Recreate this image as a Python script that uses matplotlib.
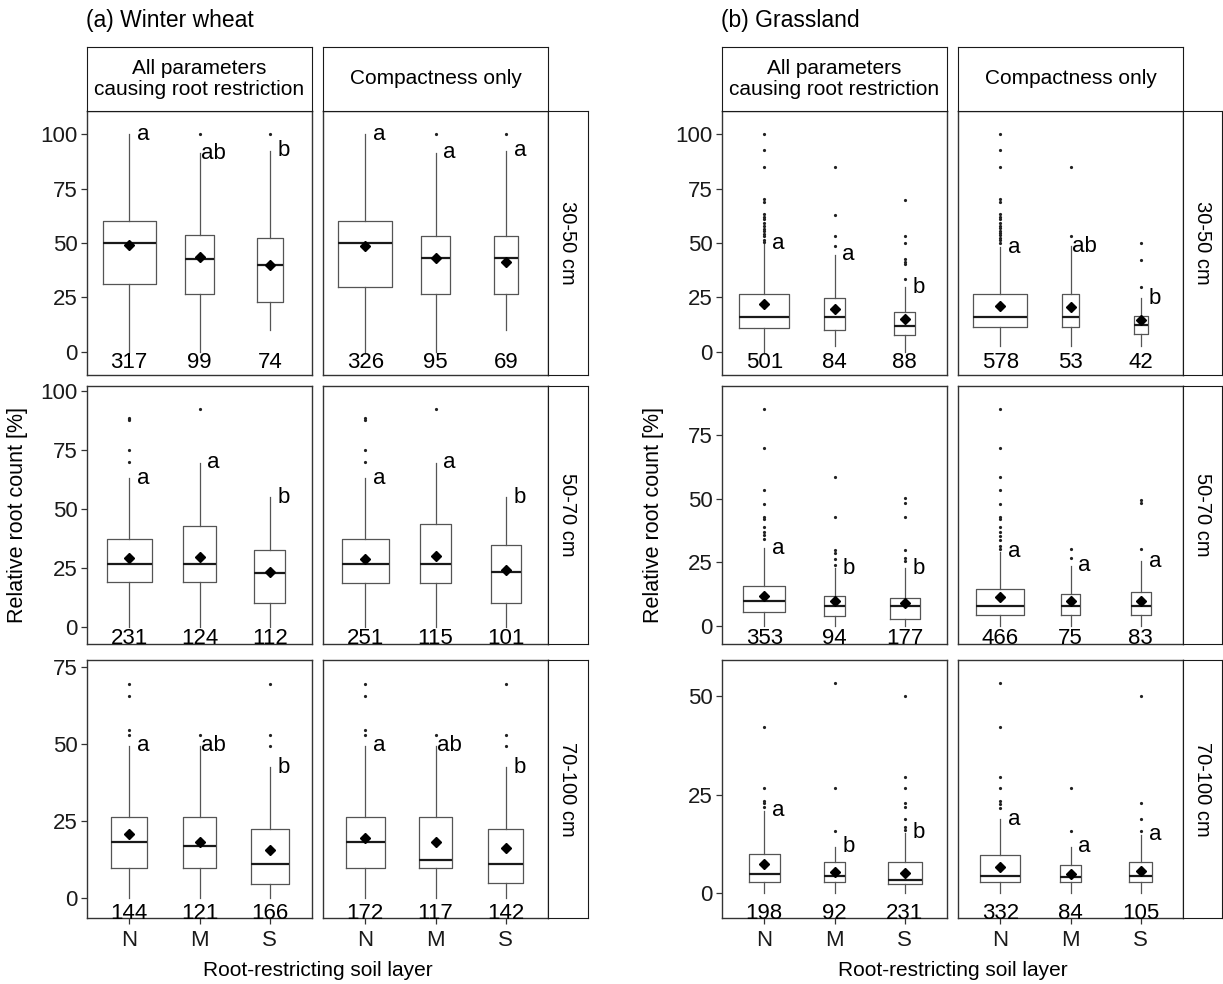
import matplotlib
matplotlib.use("Agg")
import matplotlib.pyplot as plt
import numpy as np

plt.rcParams['font.family'] = ['Liberation Sans', 'DejaVu Sans']

categories = ['N', 'M', 'S']
depths = ['30-50 cm', '50-70 cm', '70-100 cm']
criteria = ['All parameters\ncausing root restriction', 'Compactness only']

# all stats indexed [depth][criterion][category]
ww_n = [[[317, 99, 74], [326, 95, 69]],
        [[231, 124, 112], [251, 115, 101]],
        [[144, 121, 166], [172, 117, 142]]]
ww_letters = [[['a', 'ab', 'b'], ['a', 'a', 'a']],
              [['a', 'a', 'b'], ['a', 'a', 'b']],
              [['a', 'ab', 'b'], ['a', 'ab', 'b']]]
ww_whislo = [[[0, 0, 9.9], [0, 0, 9.9]],
             [[0, 0, 0], [0, 0, 0]],
             [[0, 0, 0], [0, 0, 0]]]
ww_q1 = [[[31.1, 26.4, 22.7], [29.9, 26.6, 26.6]],
         [[18.8, 18.8, 9.9], [18.7, 18.7, 9.9]],
         [[10, 10, 4.8], [10, 10, 5]]]
ww_median = [[[50, 42.6, 39.8], [50, 42.9, 42.9]],
             [[26.7, 26.7, 22.9], [26.7, 26.7, 23.2]],
             [[18.4, 17.1, 11.2], [18.4, 12.6, 11.3]]]
ww_q3 = [[[60, 53.6, 52.4], [60, 53.3, 53.3]],
         [[37.2, 42.7, 32.5], [37.2, 43.6, 34.8]],
         [[26.3, 26.3, 22.6], [26.3, 26.3, 22.6]]]
ww_whishi = [[[100, 91.1, 92.4], [100, 91.5, 92.4]],
             [[62.9, 69.6, 54.9], [62.9, 69.6, 54.9]],
             [[49.6, 49.6, 42.5], [49.6, 49.6, 42.5]]]
ww_mean = [[[48.9, 43.4, 39.8], [48.4, 43.0, 41.4]],
           [[29.3, 29.6, 23.2], [28.6, 30.0, 24.0]],
           [[20.8, 18.3, 15.6], [19.7, 18.3, 16.3]]]
ww_outliers = [[[[], [100], [100]], [[], [100], [100]]],
               [[[88.7, 88, 87.5, 74.8, 69.9], [92.2], []],
                [[88.5, 87.7, 74.8, 69.9], [92.2], []]],
               [[[69.6, 65.8, 54.6, 53], [53], [69.6, 53, 49.6]],
                [[69.6, 65.8, 54.6, 53], [53], [69.6, 53, 49.6]]]]

gr_n = [[[501, 84, 88], [578, 53, 42]],
        [[353, 94, 177], [466, 75, 83]],
        [[198, 92, 231], [332, 84, 105]]]
gr_letters = [[['a', 'a', 'b'], ['a', 'ab', 'b']],
              [['a', 'b', 'b'], ['a', 'a', 'a']],
              [['a', 'b', 'b'], ['a', 'a', 'a']]]
gr_whislo = [[[0, 2.9, 0], [2.6, 2.9, 2.9]],
             [[0, 0, 0], [0, 0, 0]],
             [[0, 0, 0], [0, 0, 0]]]
gr_q1 = [[[11.1, 10.2, 7.8], [11.5, 11.5, 8.2]],
         [[5.4, 3.9, 2.9], [4.2, 4.2, 4.2]],
         [[2.8, 2.8, 2.4], [2.8, 2.8, 2.8]]]
gr_median = [[[16.2, 15.9, 11.8], [15.9, 15.9, 12.5]],
             [[9.9, 7.9, 7.9], [8, 8, 8]],
             [[4.8, 4.3, 3.4], [4.3, 4.1, 4.3]]]
gr_q3 = [[[26.7, 24.6, 18.2], [26.7, 26.7, 16.3]],
         [[15.8, 11.8, 11.1], [14.4, 12.7, 13.4]],
         [[10.1, 7.9, 7.9], [9.8, 7.1, 7.9]]]
gr_whishi = [[[49.9, 44.6, 29.6], [48.1, 48.4, 24.7]],
             [[30.5, 22.6, 22.6], [29.2, 23.7, 25.3]],
             [[20.9, 11.8, 15.4], [18.8, 11.8, 14.9]]]
gr_mean = [[[22.0, 19.7, 15.3], [21.2, 20.5, 14.8]],
           [[11.9, 9.6, 9.0], [11.3, 9.6, 9.9]],
           [[7.5, 5.5, 5.2], [6.6, 4.8, 5.7]]]
gr_outliers = [[[[100, 92.7, 85, 70, 69, 63.2, 62.1, 61.1, 59.1, 57.6, 56.3, 55.3, 54.2, 53, 51.5, 50.4],
                 [85, 62.9, 53.3, 48.4],
                 [69.8, 53.3, 49.9, 42.6, 41.5, 40.5, 33.7]],
                [[100, 92.7, 85, 70, 69, 63.2, 62.1, 61.1, 59.1, 57.9, 56.8, 55.7, 54.7, 53.5, 52.4, 51.5, 50.2],
                 [85, 53.3],
                 [49.9, 42, 29.8]]],
               [[[85.1, 69.8, 53.4, 47.9, 42.9, 41.9, 39, 37, 35.7, 34],
                 [58.6, 42.9, 29.8, 28.8, 26.3, 24],
                 [50.1, 48.4, 42.9, 29.8, 26.6, 25.3]],
                [[85.1, 69.8, 58.6, 53.4, 47.9, 42.9, 41.9, 39, 37, 35.3, 33.8, 31.2, 30.1],
                 [30.1, 26.6],
                 [49.5, 48.4, 30.1]]],
               [[[42.1, 26.6, 23.4, 22.8, 21.9],
                 [53.3, 26.6, 15.8],
                 [50, 29.4, 26.6, 22.8, 21.9, 18.8, 16.8, 16]],
                [[53.3, 42.1, 29.4, 26.6, 23.4, 22.6, 21.7],
                 [26.6, 15.8],
                 [50, 22.8, 18.8, 15.8]]]]

ww_ylims = [(-10.6, 110.6), (-7.3, 102.1), (-6.4, 77.4)]
gr_ylims = [(-10.6, 110.6), (-7.1, 94.2), (-6.2, 59.0)]
ww_yticks = [[0, 25, 50, 75, 100], [0, 25, 50, 75, 100], [0, 25, 50, 75]]
gr_yticks = [[0, 25, 50, 75, 100], [0, 25, 50, 75], [0, 25, 50]]

W, H = 1223, 984
fig = plt.figure(figsize=(W / 100, H / 100), dpi=100)

rows_px = [(111, 375), (386, 644), (660, 918)]
strip_top_px = (47, 111)
border = '#333333'


def px_axes(x0, x1, y0, y1):
    return fig.add_axes([x0 / W, 1 - y1 / H, (x1 - x0) / W, (y1 - y0) / H])


def draw_site(title, cols_px, rstrip_px, n, letters, whislo, q1, med, q3, whishi, mean, outl,
              ylims, yticks):
    nmax = max(v for d in n for c in d for v in c)
    for r in range(3):
        for c in range(2):
            ax = px_axes(cols_px[c][0], cols_px[c][1], rows_px[r][0], rows_px[r][1])
            stats = []
            for k in range(3):
                stats.append(dict(med=med[r][c][k], q1=q1[r][c][k], q3=q3[r][c][k],
                                  whislo=whislo[r][c][k], whishi=whishi[r][c][k],
                                  mean=mean[r][c][k], fliers=outl[r][c][k]))
            widths = [0.76 * np.sqrt(v / nmax) for v in n[r][c]]
            ax.bxp(stats, positions=[1, 2, 3], widths=widths, showmeans=True, showcaps=False,
                   boxprops=dict(color='#555555', lw=0.9),
                   whiskerprops=dict(color='#555555', lw=0.9),
                   medianprops=dict(color='#1a1a1a', lw=1.6),
                   meanprops=dict(marker='D', markerfacecolor='black', markeredgecolor='black',
                                  markersize=4.8),
                   flierprops=dict(marker='o', markerfacecolor='#222222', markeredgecolor='none',
                                   markersize=2.3))
            for k in range(3):
                ax.text(k + 1, -5, str(n[r][c][k]), ha='center', va='center', fontsize=16)
                ax.text(k + 1.2, whishi[r][c][k], letters[r][c][k], ha='center', va='center',
                        fontsize=16)
            ax.set_xlim(0.4, 3.6)
            ax.set_ylim(*ylims[r])
            ax.set_yticks(yticks[r])
            ax.set_xticks([1, 2, 3])
            for s in ax.spines.values():
                s.set_color(border)
                s.set_linewidth(1)
            ax.tick_params(length=4, width=0.9, color=border, labelsize=16,
                           labelcolor='#1a1a1a', pad=2.5)
            ax.tick_params(axis='x', pad=5)
            if c > 0:
                ax.tick_params(axis='y', left=False, labelleft=False)
            if r < 2:
                ax.tick_params(axis='x', bottom=False, labelbottom=False)
            else:
                ax.set_xticklabels(categories)
        # depth strip on the right
        sax = px_axes(rstrip_px[0], rstrip_px[1], rows_px[r][0], rows_px[r][1])
        sax.set_xticks([])
        sax.set_yticks([])
        for s in sax.spines.values():
            s.set_color('#1a1a1a')
        sax.text(0.5, 0.5, depths[r], rotation=-90, ha='center', va='center', fontsize=14.5,
                 transform=sax.transAxes)
    for c in range(2):
        tax = px_axes(cols_px[c][0], cols_px[c][1], strip_top_px[0], strip_top_px[1])
        tax.set_xticks([])
        tax.set_yticks([])
        for s in tax.spines.values():
            s.set_color('#1a1a1a')
        tax.text(0.5, 0.5, criteria[c], ha='center', va='center', fontsize=15,
                 linespacing=1.1, transform=tax.transAxes)
    # titles and axis labels
    fig.text((cols_px[0][0] - 1) / W, 1 - 20 / H, title, ha='left', va='center', fontsize=16.5)
    xc = (cols_px[0][0] + cols_px[1][1]) / 2
    fig.text(xc / W, 1 - 970 / H, 'Root-restricting soil layer', ha='center', va='center',
             fontsize=15)
    fig.text((cols_px[0][0] - 69) / W, 1 - 515 / H, 'Relative root count [%]', rotation=90,
             ha='center', va='center', fontsize=15.5)


draw_site('(a) Winter wheat', [(87, 312), (323, 548)], (548, 588),
          ww_n, ww_letters, ww_whislo, ww_q1, ww_median, ww_q3, ww_whishi, ww_mean, ww_outliers,
          ww_ylims, ww_yticks)
draw_site('(b) Grassland', [(722, 947), (958, 1183)], (1183, 1222),
          gr_n, gr_letters, gr_whislo, gr_q1, gr_median, gr_q3, gr_whishi, gr_mean, gr_outliers,
          gr_ylims, gr_yticks)

fig.savefig('out.png', dpi=100)
